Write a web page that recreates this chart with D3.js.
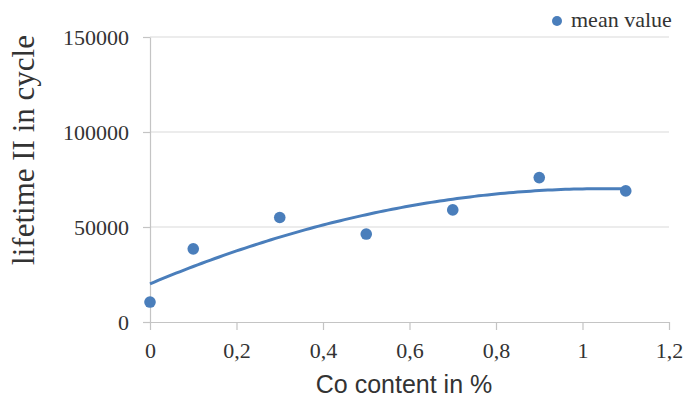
<!DOCTYPE html>
<html>
<head>
<meta charset="utf-8">
<script src="https://cdn.jsdelivr.net/npm/d3@7"></script>
<style>
  html, body { margin: 0; padding: 0; background: #fff; }
  svg { display: block; }
</style>
</head>
<body>
<svg id="chart" width="684" height="399"></svg>
<script>
// Co content (%) and mean lifetime II (cycles)
const coContent = [0, 0.1, 0.3, 0.5, 0.7, 0.9, 1.1];
const meanLifetime = [10500, 38500, 55000, 46300, 59000, 76000, 69000];
const xTicks = [0, 0.2, 0.4, 0.6, 0.8, 1, 1.2];
const yTicks = [0, 50000, 100000, 150000];
const seriesName = "mean value";
const xTitle = "Co content in %";
const yTitle = "lifetime  II in cycle";

const blue = "#4a7ebb";
const serif = "'Liberation Serif', 'Times New Roman', serif";
const sans = "'Liberation Sans', Arial, sans-serif";

const svg = d3.select("#chart");

const x = d3.scaleLinear().domain([0, 1.2]).range([150, 669]);
const y = d3.scaleLinear().domain([0, 150000]).range([322, 37]);

// horizontal gridlines
svg.append("g")
  .selectAll("line")
  .data(yTicks.filter(d => d > 0))
  .join("line")
  .attr("x1", x(0)).attr("x2", x(1.2))
  .attr("y1", d => y(d)).attr("y2", d => y(d))
  .attr("stroke", "#d9d9d9").attr("stroke-width", 1.2);

const fmtX = d => String(d).replace(".", ",");

// x axis
const gx = svg.append("g")
  .attr("transform", `translate(0,${y(0)})`)
  .call(d3.axisBottom(x).tickValues(xTicks).tickFormat(fmtX)
    .tickSize(8).tickSizeOuter(0).tickPadding(12));

// y axis
const gy = svg.append("g")
  .attr("transform", `translate(${x(0)},0)`)
  .call(d3.axisLeft(y).tickValues(yTicks).tickFormat(d => String(d))
    .tickSize(7).tickSizeOuter(0).tickPadding(14));

[gx, gy].forEach(g => {
  g.attr("font-family", serif).attr("font-size", 22);
  g.select(".domain").attr("stroke", "#c4c4c4").attr("stroke-width", 1.2);
  g.selectAll(".tick line").attr("stroke", "#c4c4c4").attr("stroke-width", 1.2);
  g.selectAll(".tick text").attr("fill", "#333");
});

// quadratic least-squares trend line
function polyFit2(xs, ys) {
  const s = [0, 0, 0, 0, 0], t = [0, 0, 0];
  xs.forEach((xi, i) => {
    for (let k = 0; k <= 4; k++) s[k] += Math.pow(xi, k);
    for (let k = 0; k <= 2; k++) t[k] += Math.pow(xi, k) * ys[i];
  });
  const A = [[s[0], s[1], s[2], t[0]], [s[1], s[2], s[3], t[1]], [s[2], s[3], s[4], t[2]]];
  for (let i = 0; i < 3; i++) {
    for (let j = i + 1; j < 3; j++) {
      const f = A[j][i] / A[i][i];
      for (let k = i; k < 4; k++) A[j][k] -= f * A[i][k];
    }
  }
  const c = [0, 0, 0];
  for (let i = 2; i >= 0; i--) {
    let v = A[i][3];
    for (let k = i + 1; k < 3; k++) v -= A[i][k] * c[k];
    c[i] = v / A[i][i];
  }
  return c;
}
const coef = polyFit2(coContent, meanLifetime);
const trendX = d3.range(0, 1.1 + 1e-9, 0.01);
const trend = trendX.map(v => [v, coef[0] + coef[1] * v + coef[2] * v * v]);

svg.append("path")
  .datum(trend)
  .attr("fill", "none")
  .attr("stroke", blue)
  .attr("stroke-width", 3)
  .attr("d", d3.line().x(d => x(d[0])).y(d => y(d[1])));

// data points
svg.append("g")
  .selectAll("circle")
  .data(coContent.map((c, i) => [c, meanLifetime[i]]))
  .join("circle")
  .attr("cx", d => x(d[0]))
  .attr("cy", d => y(d[1]))
  .attr("r", 5.8)
  .attr("fill", blue);

// legend
svg.append("circle").attr("cx", 557).attr("cy", 21).attr("r", 5).attr("fill", blue);
svg.append("text")
  .attr("x", 571).attr("y", 27)
  .attr("fill", "#333")
  .style("font-family", serif).style("font-size", "22px")
  .text(seriesName);

// axis titles
svg.append("text")
  .attr("x", 404).attr("y", 393)
  .attr("text-anchor", "middle")
  .attr("fill", "#333")
  .style("font-family", sans).style("font-size", "25px")
  .text(xTitle);

svg.append("text")
  .attr("transform", "translate(34,150) rotate(-90)")
  .attr("text-anchor", "middle")
  .attr("fill", "#333")
  .style("font-family", serif).style("font-size", "31px")
  .text(yTitle);
</script>
</body>
</html>
